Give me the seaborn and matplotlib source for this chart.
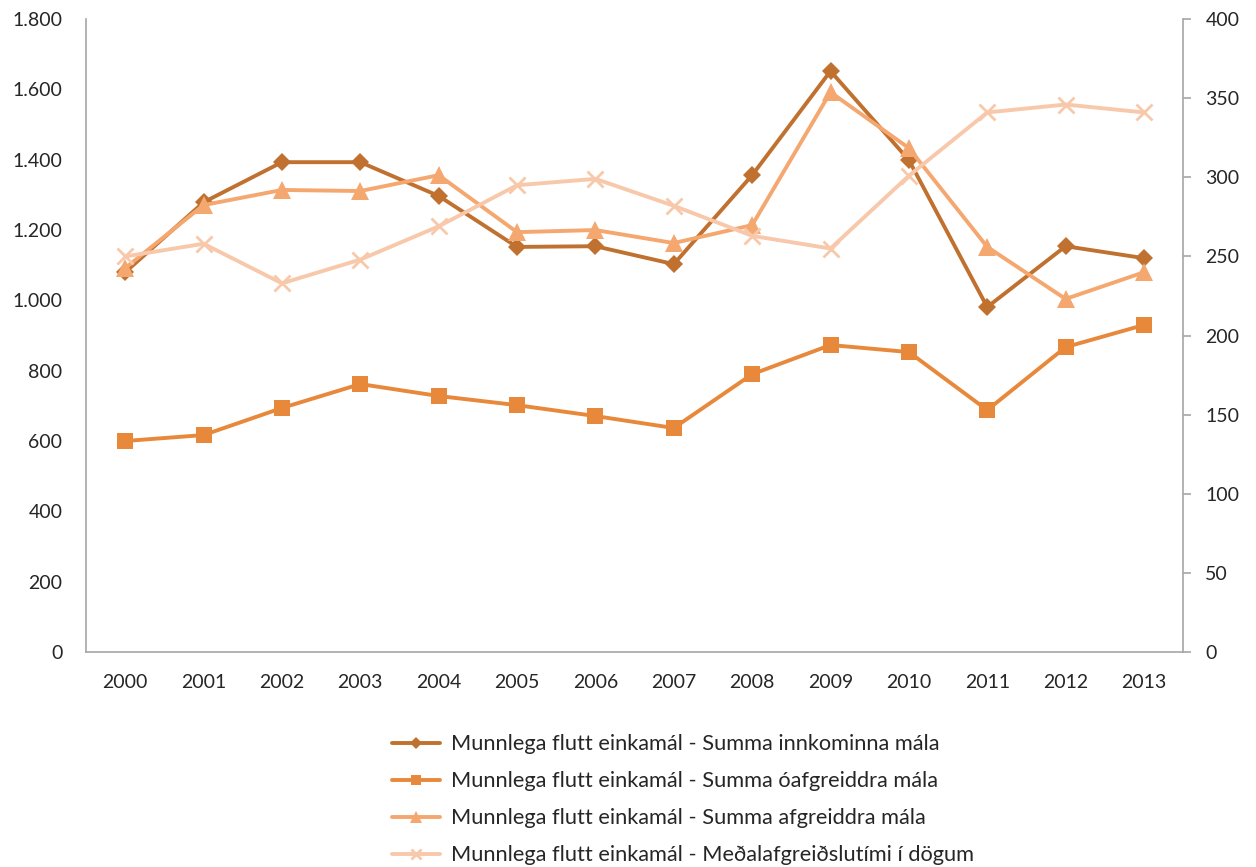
import numpy as np
import pandas as pd
import matplotlib
matplotlib.use("Agg")
import matplotlib.pyplot as plt
import matplotlib.ticker as mticker
import seaborn as sns

years = list(range(2000, 2014))
innkomin = [1080, 1279, 1393, 1393, 1297, 1152, 1154, 1103, 1356, 1652, 1399, 981, 1154, 1120]
oafgreidd = [600, 617, 694, 762, 728, 702, 671, 637, 790, 873, 853, 688, 867, 930]
afgreidd = [1092, 1271, 1314, 1311, 1356, 1194, 1200, 1163, 1214, 1592, 1433, 1152, 1004, 1080]
medaltimi = [250, 258, 233, 248, 269, 295, 299, 282, 263, 255, 301, 341, 346, 341]

labels = [
    "Munnlega flutt einkamál - Summa innkominna mála",
    "Munnlega flutt einkamál - Summa óafgreiddra mála",
    "Munnlega flutt einkamál - Summa afgreiddra mála",
    "Munnlega flutt einkamál - Meðalafgreiðslutími í dögum",
]
colors = ["#C0712F", "#E8883A", "#F5A770", "#F8C8AB"]

sns.set_style("white")
plt.rcParams['font.family'] = ['Lato', 'DejaVu Sans']

fig = plt.figure(figsize=(12.56, 8.67), dpi=100)
ax = fig.add_axes([0.0685, 0.248, 0.8735, 0.730])
ax2 = ax.twinx()

df = pd.DataFrame({"year": years, "a": innkomin, "b": oafgreidd, "c": afgreidd, "d": medaltimi})

# three series on the left axis, average time on the right one
sns.lineplot(data=df, x="year", y="a", ax=ax, color=colors[0], lw=2.8,
             marker="D", markersize=9, markeredgewidth=0, label=labels[0], legend=False)
sns.lineplot(data=df, x="year", y="b", ax=ax, color=colors[1], lw=2.8,
             marker="s", markersize=12, markeredgewidth=0, label=labels[1], legend=False)
sns.lineplot(data=df, x="year", y="c", ax=ax, color=colors[2], lw=2.8,
             marker="^", markersize=13, markeredgewidth=0, label=labels[2], legend=False)
sns.lineplot(data=df, x="year", y="d", ax=ax2, color=colors[3], lw=2.8,
             marker="x", markersize=12, markeredgewidth=2, markeredgecolor=colors[3],
             dashes=False, label=labels[3], legend=False)
for ln in ax2.get_lines():
    ln.set_linestyle("-")

ax.set_xlim(1999.5, 2013.5)
ax.set_ylim(0, 1800)
ax2.set_ylim(0, 400)
ax.set_xticks(years)
ax.set_xticklabels([str(y) for y in years])
ax.set_yticks(np.arange(0, 1801, 200))
ax.yaxis.set_major_formatter(mticker.FuncFormatter(lambda v, p: f"{int(v):,}".replace(",", ".")))
ax2.set_yticks(np.arange(0, 401, 50))
ax.set_xlabel("")
ax.set_ylabel("")
ax2.set_ylabel("")

for s in ["top", "right"]:
    ax.spines[s].set_visible(False)
for s in ["top", "left", "bottom"]:
    ax2.spines[s].set_visible(False)
for sp in [ax.spines["left"], ax.spines["bottom"], ax2.spines["right"]]:
    sp.set_color("#A6A6A6")
    sp.set_linewidth(1.2)

ax.tick_params(axis="x", length=0, pad=16, labelsize=14, colors="#262626")
ax.tick_params(axis="y", length=0, pad=17, labelsize=14, colors="#262626")
ax2.tick_params(axis="y", length=6, width=1.2, color="#A6A6A6", pad=10,
                labelsize=14, labelcolor="#262626", direction="out")

handles = [h for h in ax.get_lines() if h.get_label() in labels] + \
          [h for h in ax2.get_lines() if h.get_label() in labels]
leg = fig.legend(handles=handles, labels=labels, loc="upper left",
                 bbox_to_anchor=(0.305, 0.163), frameon=False, fontsize=15.7,
                 handlelength=2.2, handletextpad=0.5, labelspacing=0.78,
                 markerscale=0.65, borderaxespad=0)
for t in leg.get_texts():
    t.set_color("#262626")

fig.savefig("out.png", dpi=100)
